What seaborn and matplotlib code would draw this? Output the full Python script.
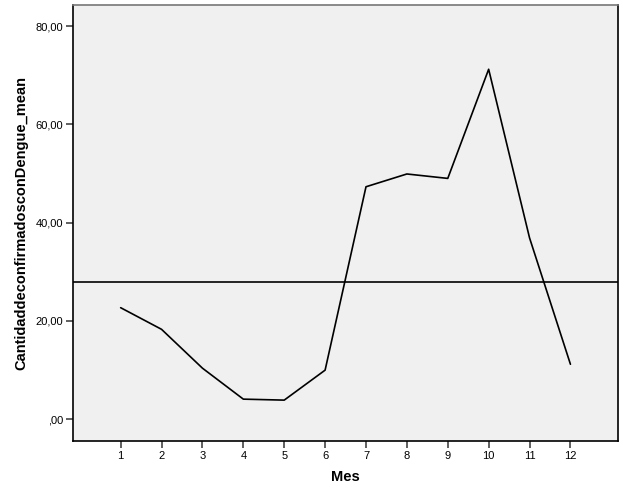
import pandas as pd
import seaborn as sns
import matplotlib.pyplot as plt
from matplotlib.ticker import FuncFormatter

# Monthly means of confirmed dengue cases
mes = [1, 2, 3, 4, 5, 6, 7, 8, 9, 10, 11, 12]
casos = [22.7, 18.3, 10.4, 4.1, 3.9, 10.0, 47.3, 49.9, 49.0, 71.2, 36.9, 11.2]
media_ref = 27.9

df = pd.DataFrame({"Mes": mes, "CantidaddeconfirmadosconDengue_mean": casos})

sns.set_style("white")
plt.rcParams['font.family'] = ['Liberation Sans', 'DejaVu Sans']
plt.rcParams['text.color'] = 'black'
plt.rcParams['axes.labelcolor'] = 'black'
plt.rcParams['xtick.labelcolor'] = 'black'
plt.rcParams['ytick.labelcolor'] = 'black'

fig = plt.figure(figsize=(6.26, 5.01), dpi=100)
ax = fig.add_axes([0.1166, 0.1198, 0.987 - 0.1166, 0.990 - 0.1198])
ax.set_facecolor("#f0f0f0")

sns.lineplot(data=df, x="Mes", y="CantidaddeconfirmadosconDengue_mean",
             color="black", linewidth=1.2, ax=ax)
ax.axhline(media_ref, color="black", linewidth=1.2)

ax.set_xlim(-0.166, 13.16)
ax.set_ylim(-4.41, 84.27)
ax.set_xticks(mes)
ax.set_yticks([0, 20, 40, 60, 80])
ax.yaxis.set_major_formatter(FuncFormatter(
    lambda v, p: ",00" if v == 0 else ("%.2f" % v).replace(".", ",")))

ax.tick_params(axis="both", which="major", length=5, width=1.2, color="#444444",
               labelsize=8, direction="out", pad=2, labelcolor="black")
ax.xaxis.set_ticks_position("bottom")
ax.yaxis.set_ticks_position("left")

for side in ["left", "bottom", "right"]:
    ax.spines[side].set_color("black")
    ax.spines[side].set_linewidth(1.2)
ax.spines["top"].set_color("#777777")
ax.spines["top"].set_linewidth(1.2)

ax.set_xlabel("Mes", fontsize=10.5, fontweight="bold", labelpad=7, color="black")
ax.set_ylabel("CantidaddeconfirmadosconDengue_mean", fontsize=10.5, fontweight="bold",
              labelpad=5, color="black")

fig.savefig("out.png", dpi=100)
